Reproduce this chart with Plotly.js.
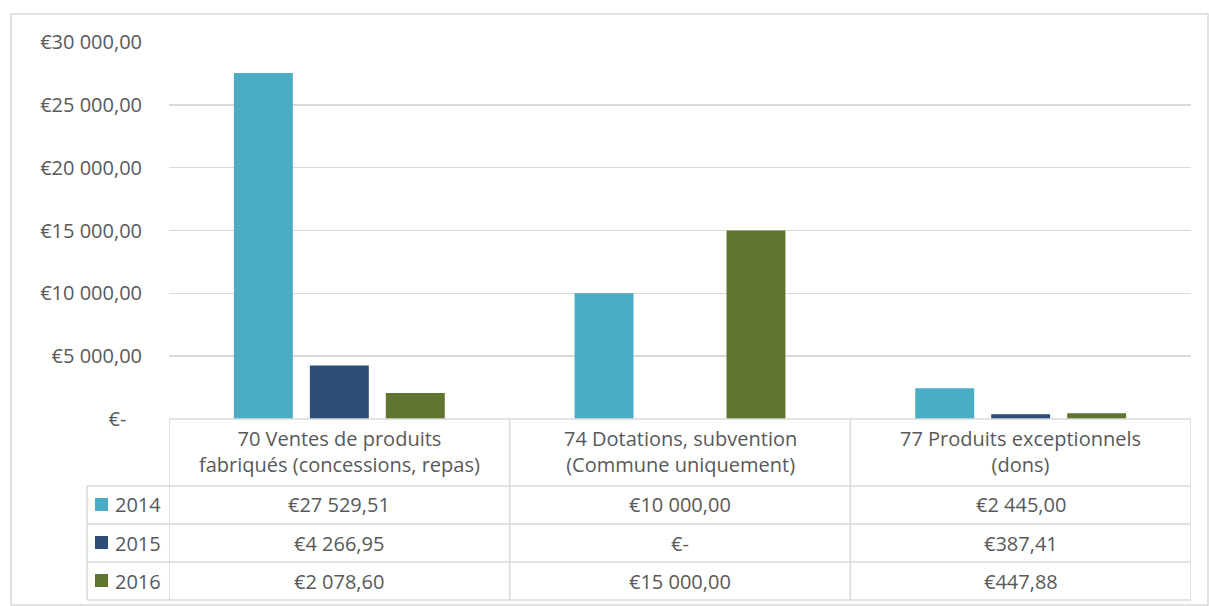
<!DOCTYPE html>
<html>
<head>
<meta charset="utf-8">
<script src="https://cdn.plot.ly/plotly-3.0.1.min.js"></script>
<style>html,body{margin:0;padding:0;background:#fff;}#chart{width:1209px;height:606px;}</style>
</head>
<body>
<div id="chart"></div>
<script>
var categories = ["70 Ventes de produits<br>fabriqués (concessions, repas)", "74 Dotations, subvention<br>(Commune uniquement)", "77 Produits exceptionnels<br>(dons)"];
var seriesNames = ["2014", "2015", "2016"];
var values2014 = [27529.51, 10000.00, 2445.00];
var values2015 = [4266.95, 0, 387.41];
var values2016 = [2078.60, 15000.00, 447.88];
var colors = ["#4BACC6", "#2C4D75", "#5F7530"];
var tickVals = [0, 5000, 10000, 15000, 20000, 25000, 30000];

var FONT = "'Open Sans', Lato, sans-serif";
var FS = 20;
var TXT = "#595959";
var LINE = "#d9d9d9";

function fmt(v) {
  if (v === 0) return "€-";
  var parts = v.toFixed(2).split(".");
  var intPart = parts[0].replace(/\B(?=(\d{3})+(?!\d))/g, "\u00a0");
  return "€" + intPart + "," + parts[1];
}
var tickText = tickVals.map(function (v) { return v === 0 ? "€-\u00a0\u00a0\u00a0" : fmt(v); });

var allSeries = [values2014, values2015, values2016];
var traces = allSeries.map(function (vals, i) {
  return {
    type: "bar",
    name: seriesNames[i],
    x: [0, 1, 2],
    y: vals,
    marker: { color: colors[i] },
    hoverinfo: "skip"
  };
});

// pixel -> paper helpers (plot area x:169..1191, y:42..419)
function px(X) { return (X - 169) / 1022; }
function py(Y) { return (419 - Y) / 377; }

var shapes = [];
var annotations = [];
function line(x0, y0, x1, y1, xref) {
  shapes.push({ type: "line", xref: xref || "paper", yref: "paper", x0: x0, y0: y0, x1: x1, y1: y1,
    line: { color: LINE, width: 1.5 } });
}
// outer border
shapes.push({ type: "rect", xref: "paper", yref: "paper", x0: px(11), y0: py(605), x1: px(1208), y1: py(14),
  line: { color: LINE, width: 1.5 }, fillcolor: "rgba(0,0,0,0)", layer: "below" });

var rowTops = [486, 524, 562];
// table horizontal lines
line(px(169), py(419), px(1191), py(419));
line(px(87), py(486), px(1191), py(486));
line(px(87), py(524), px(1191), py(524));
line(px(87), py(562), px(1191), py(562));
line(px(87), py(600), px(1191), py(600));
// vertical lines
line(px(87), py(486), px(87), py(600));
[-0.5, 0.5, 1.5, 2.5].forEach(function (b) {
  line(b, py(419), b, py(600), "x");
});

// header labels
categories.forEach(function (c, i) {
  annotations.push({ xref: "x", yref: "paper", x: i, y: py(452), text: c, showarrow: false,
    font: { family: FONT, size: FS, color: TXT }, align: "center", xanchor: "center", yanchor: "middle" });
});
// rows
allSeries.forEach(function (vals, r) {
  var yc = py(rowTops[r] + 19);
  shapes.push({ type: "rect", xref: "paper", yref: "paper", x0: px(95), x1: px(108), y0: py(rowTops[r] + 12), y1: py(rowTops[r] + 25),
    fillcolor: colors[r], line: { width: 0 } });
  annotations.push({ xref: "paper", yref: "paper", x: px(113), y: yc, text: seriesNames[r], showarrow: false,
    font: { family: FONT, size: FS, color: TXT }, xanchor: "left", yanchor: "middle" });
  vals.forEach(function (v, i) {
    annotations.push({ xref: "x", yref: "paper", x: i, y: yc, text: fmt(v), showarrow: false,
      font: { family: FONT, size: FS, color: TXT }, xanchor: "center", yanchor: "middle" });
  });
});

var layout = {
  width: 1209, height: 606,
  margin: { l: 169, r: 18, t: 42, b: 187 },
  paper_bgcolor: "#fff", plot_bgcolor: "#fff",
  showlegend: false,
  barmode: "group",
  bargap: 0.331,
  bargroupgap: 0.224,
  xaxis: { range: [-0.5, 2.5], showticklabels: false, showgrid: false, zeroline: false, showline: false, ticks: "", fixedrange: true },
  yaxis: { range: [0, 30000], tickvals: tickVals, ticktext: tickText, showgrid: true, gridcolor: LINE, gridwidth: 1.5,
    zeroline: false, showline: false, ticks: "outside", ticklen: 22, tickcolor: "rgba(0,0,0,0)",
    tickfont: { family: FONT, size: FS, color: TXT }, fixedrange: true },
  shapes: shapes,
  annotations: annotations
};

Plotly.newPlot("chart", traces, layout, { displayModeBar: false, staticPlot: true });
</script>
</body>
</html>
